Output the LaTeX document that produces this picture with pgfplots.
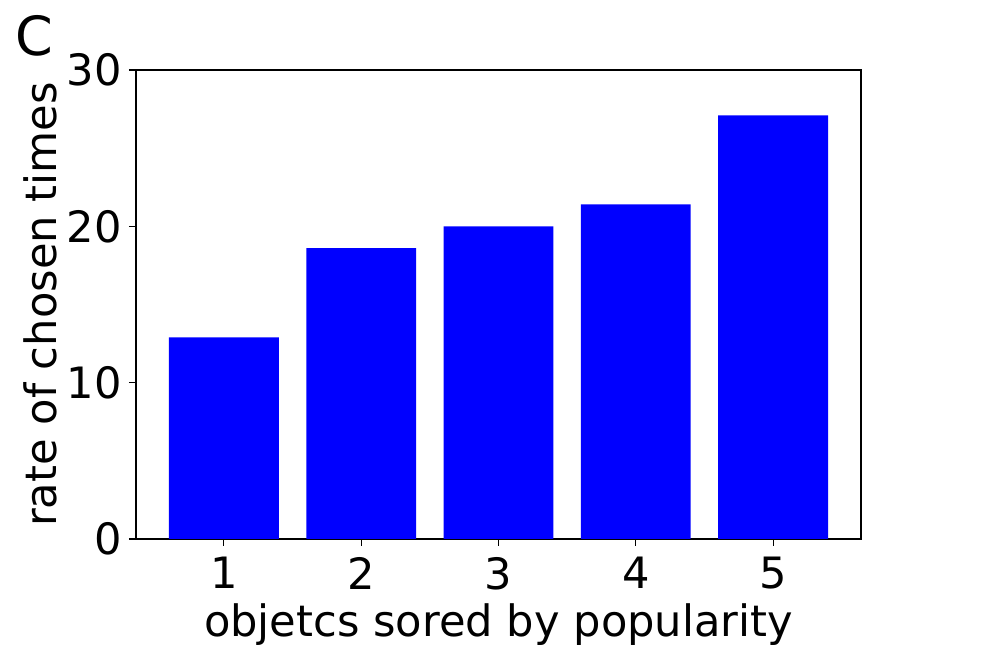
\documentclass[border=0pt]{standalone}
\usepackage{pgfplots}
\pgfplotsset{compat=1.18}
\usepackage{fontspec}
\setmainfont{DejaVu Sans}
\definecolor{barblue}{RGB}{0,0,255}
\begin{document}
\begin{tikzpicture}[font=\fontsize{21.6}{26}\selectfont]
\useasboundingbox (-68pt,-62pt) rectangle (430.5pt,269.5pt);
\begin{axis}[
    at={(0,0)}, anchor=south west,
    scale only axis, width=362.5pt, height=234.5pt,
    ybar, bar width=0.8,
    xmin=0.36, xmax=5.64, ymin=0, ymax=30,
    xtick={1,2,3,4,5}, ytick={0,10,20,30},
    xtick pos=bottom, ytick pos=left,
    tick align=outside, major tick length=3.5pt,
    tick style={black, line width=0.6pt},
    axis line style={line width=0.6pt},
    /pgf/number format/assume math mode=true,
    xticklabel style={yshift=-2pt},
    xlabel={objetcs sored by popularity},
    ylabel={rate of chosen times},
    every axis x label/.style={at={(axis description cs:0.5,0)}, anchor=center, yshift=-43pt},
    every axis y label/.style={at={(axis description cs:0,0.5)}, anchor=center, xshift=-48pt, rotate=90},
    clip=false,
]
\addplot[fill=barblue, draw=none] coordinates {(1,12.9) (2,18.6) (3,20.0) (4,21.4) (5,27.1)};
\node[font=\fontsize{27}{30}\selectfont] at (rel axis cs:0,1) [xshift=-51pt, yshift=17pt] {C};
\end{axis}
\end{tikzpicture}
\end{document}
